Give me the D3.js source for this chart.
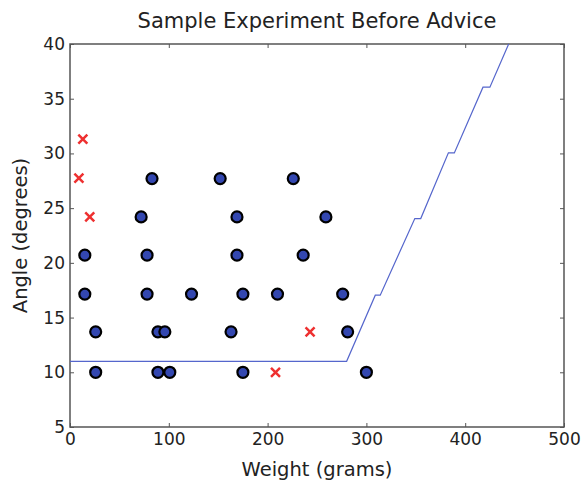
<!DOCTYPE html>
<html>
<head>
<meta charset="utf-8">
<script src="https://cdn.jsdelivr.net/npm/d3@7"></script>
<style>
  body { margin: 0; background: #fff; }
  text { font-family: "DejaVu Sans", sans-serif; fill: #222; }
  .axis path, .axis line { stroke: #555; }
</style>
</head>
<body>
<div id="chart"></div>
<script>
// accepted samples (weight in grams, angle in degrees)
const okWeight = [83, 152, 226, 72, 169, 259, 15, 78, 169, 236, 15, 78, 123, 175, 210, 276, 26, 89, 96, 163, 281, 26, 89, 101, 175, 300];
const okAngle  = [27.7, 27.7, 27.7, 24.2, 24.2, 24.2, 20.7, 20.7, 20.7, 20.7, 17.15, 17.15, 17.15, 17.15, 17.15, 17.15, 13.7, 13.7, 13.7, 13.7, 13.7, 10, 10, 10, 10, 10];
// rejected samples
const badWeight = [13, 9, 20, 208, 243];
const badAngle  = [31.3, 27.75, 24.2, 10, 13.7];
// decision boundary
const lineWeight = [0, 280, 309, 314, 349, 355, 383, 389, 418, 425, 444];
const lineAngle  = [11, 11, 17.05, 17.05, 24.05, 24.05, 30.05, 30.05, 36.05, 36.05, 40];

const xTicks = [0, 100, 200, 300, 400, 500];
const yTicks = [5, 10, 15, 20, 25, 30, 35, 40];

const W = 584, H = 482;
const margin = {top: 44, right: 20, bottom: 55, left: 70};
const width = W - margin.left - margin.right,
      height = H - margin.top - margin.bottom;

const svg = d3.select("#chart").append("svg")
    .attr("width", W)
    .attr("height", H);

const g = svg.append("g")
    .attr("transform", "translate(" + margin.left + "," + margin.top + ")");

const x = d3.scaleLinear().domain([0, 500]).range([0, width]);
const y = d3.scaleLinear().domain([5, 40]).range([height, 0]);

// axes, ticks pointing inward on all four sides
function styleAxis(sel) {
  sel.select(".domain").remove();
  sel.selectAll("text").style("font-size", "17px").style("fill", "#222");
  sel.selectAll("line").attr("stroke", "#555");
}
g.append("g").attr("class", "axis")
  .attr("transform", "translate(0," + height + ")")
  .call(d3.axisBottom(x).tickValues(xTicks).tickSizeInner(-4).tickSizeOuter(0).tickPadding(6))
  .call(styleAxis);
g.append("g").attr("class", "axis")
  .call(d3.axisTop(x).tickValues(xTicks).tickSizeInner(-4).tickSizeOuter(0).tickFormat(""))
  .call(styleAxis);
g.append("g").attr("class", "axis")
  .call(d3.axisLeft(y).tickValues(yTicks).tickSizeInner(-4).tickSizeOuter(0).tickPadding(5))
  .call(styleAxis);
g.append("g").attr("class", "axis")
  .attr("transform", "translate(" + width + ",0)")
  .call(d3.axisRight(y).tickValues(yTicks).tickSizeInner(-4).tickSizeOuter(0).tickFormat(""))
  .call(styleAxis);

g.append("rect")
  .attr("width", width).attr("height", height)
  .attr("fill", "none").attr("stroke", "#555").attr("stroke-width", 1.5);

// boundary line
const lineData = lineWeight.map((w, i) => [w, lineAngle[i]]);
g.append("path")
  .datum(lineData)
  .attr("fill", "none")
  .attr("stroke", "#5566cc")
  .attr("stroke-width", 1.2)
  .attr("d", d3.line().x(d => x(d[0])).y(d => y(d[1])));

// circles
g.selectAll(".ok")
  .data(okWeight.map((w, i) => [w, okAngle[i]]))
  .enter().append("circle")
  .attr("class", "ok")
  .attr("cx", d => x(d[0]))
  .attr("cy", d => y(d[1]))
  .attr("r", 5.5)
  .attr("fill", "#3347b0")
  .attr("stroke", "#000")
  .attr("stroke-width", 2.2);

// crosses
const s = 4.5;
g.selectAll(".bad")
  .data(badWeight.map((w, i) => [w, badAngle[i]]))
  .enter().append("path")
  .attr("class", "bad")
  .attr("d", d => {
    const cx = x(d[0]), cy = y(d[1]);
    return "M" + (cx - s) + "," + (cy - s) + "L" + (cx + s) + "," + (cy + s) +
           "M" + (cx - s) + "," + (cy + s) + "L" + (cx + s) + "," + (cy - s);
  })
  .attr("stroke", "#ee3030")
  .attr("stroke-width", 2.5)
  .attr("fill", "none");

// title and labels
svg.append("text")
  .attr("x", margin.left + width / 2).attr("y", 28)
  .attr("text-anchor", "middle")
  .style("font-size", "21px")
  .text("Sample Experiment Before Advice");

svg.append("text")
  .attr("x", margin.left + width / 2).attr("y", 476)
  .attr("text-anchor", "middle")
  .style("font-size", "19.5px")
  .text("Weight (grams)");

svg.append("text")
  .attr("transform", "translate(27," + (margin.top + height / 2) + ") rotate(-90)")
  .attr("text-anchor", "middle")
  .style("font-size", "19.5px")
  .text("Angle (degrees)");
</script>
</body>
</html>
